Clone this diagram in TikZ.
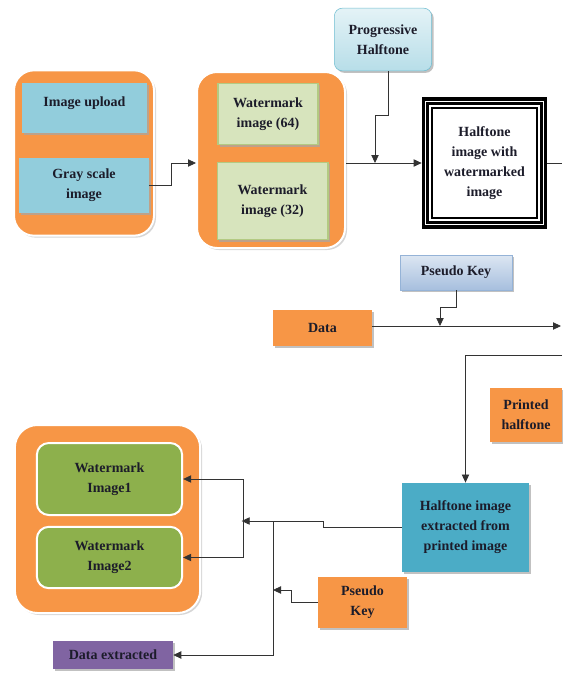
\documentclass[tikz,border=0pt]{standalone}
\usepackage{fontspec}
\setmainfont{Liberation Serif}
\usetikzlibrary{positioning,arrows.meta,calc,shadows}

\definecolor{orng}{HTML}{F79646}
\definecolor{skyb}{HTML}{92CDDC}
\definecolor{palegr}{HTML}{D7E4BD}
\definecolor{palegrb}{HTML}{B3CA82}
\definecolor{leafgr}{HTML}{8DB04C}
\definecolor{teal}{HTML}{4BACC6}
\definecolor{lilac}{HTML}{8064A2}
\definecolor{keytop}{HTML}{DCE6F2}
\definecolor{keybot}{HTML}{A7BFDE}
\definecolor{keyrim}{HTML}{95B3D7}
\definecolor{txt}{HTML}{1C1C2A}

\begin{document}
\begin{tikzpicture}[
    x=0.75pt, y=-0.75pt,
    font=\fontsize{10.5}{15}\selectfont\bfseries,
    text=txt,
    box/.style={align=center, inner sep=2pt,
                drop shadow={shadow xshift=1.5pt, shadow yshift=-1.5pt, fill=gray!70, opacity=.7}},
    holder/.style={fill=orng, draw=white, line width=1.5pt, rounded corners=15pt,
                   drop shadow={shadow xshift=1.5pt, shadow yshift=-1.5pt, fill=gray!40, opacity=.8}},
    arr/.style={-{Triangle[length=6pt, width=5.5pt]}, draw=black!80, line width=0.6pt},
    ln/.style={draw=black!80, line width=0.6pt},
  ]
    \useasboundingbox (0,0) rectangle (562,678);

    % Upload group
    \node[holder, minimum width=105pt, minimum height=124pt] (grpa) at (84,153) {};
    \node[box, fill=skyb, text depth=10pt, minimum width=94pt, minimum height=37pt] (upload) at (84.5,108) {Image upload};
    \node[box, fill=skyb, minimum width=97pt, minimum height=41pt] (gray) at (84,185.5) {Gray scale\\image};

    % Watermark group
    \node[holder, minimum width=111pt, minimum height=132pt] (grpb) at (271,160) {};
    \node[box, fill=palegr, draw=palegrb, line width=1pt, minimum width=75pt, minimum height=46pt] (wmsix) at (268,114) {Watermark\\image (64)};
    \node[box, fill=palegr, draw=palegrb, line width=1pt, minimum width=83pt, minimum height=58pt] (wmtwo) at (272.5,201) {Watermark\\image (32)};

    % Progressive halftone
    \node[box, draw=teal!80, rounded corners=6pt, top color=teal!15, bottom color=teal!40,
          minimum width=73pt, minimum height=47pt] (prog) at (383,39.5) {Progressive\\Halftone};

    % Halftone result, three frames
    \node[draw=black, line width=2.3pt, fill=white, align=center,
          minimum width=92pt, minimum height=96pt] (half) at (484.5,163) {Halftone\\image with\\watermarked\\image};
    \draw[line width=2pt] ([shift={(6,6)}]half.north west) rectangle ([shift={(-6,-6)}]half.south east);
    \draw[line width=1pt] ([shift={(10.5,10.5)}]half.north west) rectangle ([shift={(-10.5,-10.5)}]half.south east);

    % Data and key
    \node[box, draw=keyrim, top color=keytop, bottom color=keybot,
          minimum width=84pt, minimum height=26pt] (keya) at (456,272.5) {Pseudo Key};
    \node[box, fill=orng, minimum width=74pt, minimum height=27pt] (data) at (322.5,328) {Data};
    \node[box, fill=orng, minimum width=54pt, minimum height=40pt] (printed) at (526,415) {Printed\\halftone};

    % Extraction
    \node[box, fill=teal, minimum width=95pt, minimum height=67pt] (extract) at (465.5,527.5) {Halftone image\\extracted from\\printed image};
    \node[box, fill=orng, minimum width=67pt, minimum height=38pt] (keyb) at (362.5,602.5) {Pseudo\\Key};

    % Output group
    \node[holder, rounded corners=17pt, minimum width=139pt, minimum height=141pt] (grpc) at (107.5,519) {};
    \node[fill=leafgr, draw=white, line width=1.5pt, rounded corners=9pt, align=center,
          minimum width=109pt, minimum height=54pt] (wmia) at (109.5,479) {Watermark\\Image1};
    \node[fill=leafgr, draw=white, line width=1.5pt, rounded corners=9pt, align=center,
          minimum width=109pt, minimum height=46pt] (wmib) at (109.5,557.5) {Watermark\\Image2};
    \node[box, fill=lilac, minimum width=90pt, minimum height=21pt] (dataout) at (113,655) {Data extracted};

    % Junctions
    \coordinate (jprog) at (375,163);
    \coordinate (jkey) at (440,326);
    \coordinate (rtop) at (562,163);
    \coordinate (rmid) at (561,326);
    \coordinate (rlow) at (562,355);
    \coordinate (jwm) at (243,521);
    \coordinate (jdata) at (273,521);
    \coordinate (jkeyb) at (273,590);

    % Arrows
    \draw[arr] (gray.east) -- ++(22,0) |- (grpb.west |- jprog);
    \draw[ln]  (grpb.east |- jprog) -- (jprog);
    \draw[arr] (jprog) -- (half.west);
    \draw[arr] ([xshift=3.75pt]prog.south) -- ++(0,44) -| (jprog);
    \draw[ln]  (half.east) -- (rtop);
    \draw[arr] (keya.south) -- ++(0,17) -| (jkey);
    \draw[arr] (data.east |- rmid) -- (rmid);
    \draw[arr] (rlow) -| (extract.north);
    \draw[ln]  (extract.west) -- ++(-79,0) |- (jdata);
    \draw[arr] (jdata) -- ([xshift=-1pt]jwm);
    \draw[ln]  (wmia.east -| jwm) -- (wmib.east -| jwm);
    \draw[arr] (wmia.east -| jwm) -- (wmia.east);
    \draw[arr] (wmib.east -| jwm) -- (wmib.east);
    \draw[arr] (jdata) |- (dataout.east);
    \draw[arr] (keyb.west) -- ++(-26,0) |- (jkeyb);
  \end{tikzpicture}
\end{document}
